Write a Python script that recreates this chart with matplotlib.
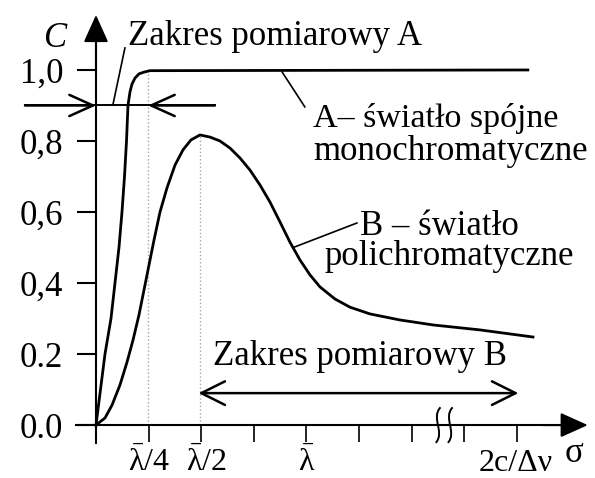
import numpy as np
import matplotlib.pyplot as plt
from matplotlib.path import Path
from matplotlib.patches import PathPatch

plt.rcParams['font.family'] = ['Liberation Serif', 'DejaVu Serif']
plt.rcParams['mathtext.fontset'] = 'custom'
plt.rcParams['mathtext.rm'] = 'Liberation Serif'
plt.rcParams['mathtext.it'] = 'Liberation Serif:italic'

FS = 25          # main text size (pt)
LW_CURVE = 2.0
LW_AXIS = 1.5

# x in units of lambda/4 (tick spacing), C = contrast
# A: coherent monochromatic light
a_x = [0.0, 0.171, 0.285, 0.361, 0.437, 0.494, 0.542, 0.580, 0.608, 0.646, 0.684,
       0.741, 0.817, 0.913, 1.027, 8.21]
a_c = [0.0, 0.2, 0.3, 0.4, 0.5, 0.6, 0.7, 0.8, 0.9, 0.938, 0.96,
       0.977, 0.989, 0.994, 0.998, 1.0]

# B: polychromatic light
b_x = [0.0, 0.171, 0.304, 0.456, 0.589, 0.703, 0.817, 0.912, 1.008, 1.103, 1.217,
       1.35, 1.502, 1.654, 1.806, 1.977, 2.167, 2.357, 2.548, 2.738, 2.928, 3.118,
       3.308, 3.498, 3.688, 3.878, 4.068, 4.259, 4.544, 4.829, 5.209, 5.779, 6.407,
       7.3, 8.308]
b_c = [0.0, 0.02, 0.056, 0.113, 0.177, 0.239, 0.31, 0.38, 0.451, 0.521, 0.6,
       0.668, 0.732, 0.775, 0.803, 0.817, 0.811, 0.8, 0.78, 0.752, 0.718, 0.676,
       0.628, 0.572, 0.515, 0.465, 0.423, 0.389, 0.355, 0.332, 0.313, 0.296, 0.282,
       0.268, 0.248]

y_ticks = [0.0, 0.2, 0.4, 0.6, 0.8, 1.0]
y_labels = ['0.0', '0.2', '0,4', '0,6', '0,8', '1,0']
x_ticks = [0, 1, 2, 3, 4, 5, 6, 7, 8]
x_label_pos = [1.01, 2.09, 4.01, 7.98]
x_label_txt = [r'$\bar{\mathrm{\lambda}}$/4', r'$\bar{\mathrm{\lambda}}$/2',
               r'$\bar{\mathrm{\lambda}}$', '2c/\u0394\u03bd']

fig = plt.figure(figsize=(5.95, 4.78), dpi=100)
ax = fig.add_axes([0, 0, 1, 1])
ax.set_xlim(-1.825, 9.487)
ax.set_ylim(-0.149, 1.197)
ax.patch.set_visible(False)

# axes through the origin
for s in ['top', 'right']:
    ax.spines[s].set_visible(False)
ax.spines['left'].set_position(('data', 0))
ax.spines['bottom'].set_position(('data', 0))
ax.spines['left'].set_bounds(-0.05, 1.09)
ax.spines['bottom'].set_bounds(-0.38, 8.95)
ax.spines['left'].set_linewidth(LW_AXIS)
ax.spines['bottom'].set_linewidth(LW_AXIS)

ax.set_yticks(y_ticks, y_labels)
ax.set_xticks(x_ticks, [''] * len(x_ticks))
ax.tick_params(axis='y', direction='out', length=13.5, width=1.5, pad=10, labelsize=FS)
ax.tick_params(axis='x', direction='out', length=12, width=1.2)

# arrow heads on the axes
head = dict(arrowstyle='-|>,head_length=1.0,head_width=0.45', mutation_scale=17,
            color='k', lw=LW_AXIS, shrinkA=0, shrinkB=0)
ax.annotate('', xy=(0, 1.155), xytext=(0, 1.0), arrowprops=head, annotation_clip=False)
ax.annotate('', xy=(9.35, 0), xytext=(8.5, 0), arrowprops=head, annotation_clip=False)

# axis break: two small S-shaped squiggles
for xc in (6.50, 6.73):
    verts = [(xc + 0.05, 0.05), (xc - 0.14, 0.02), (xc + 0.14, -0.02), (xc - 0.04, -0.05)]
    squiggle = Path(verts, [Path.MOVETO, Path.CURVE4, Path.CURVE4, Path.CURVE4])
    ax.add_patch(PathPatch(squiggle, fill=False, lw=1.4, color='k'))

# guide lines
b_peak = int(np.argmax(b_c))
ax.plot([0.98, 0.98], [0, 1.0], ls=':', color='0.65', lw=1.0)
ax.plot([b_x[b_peak], b_x[b_peak]], [0, b_c[b_peak]], ls=':', color='0.65', lw=1.0)

# curves
ax.plot(a_x, a_c, color='k', lw=LW_CURVE, solid_joinstyle='round')
ax.plot(b_x, b_c, color='k', lw=LW_CURVE, solid_joinstyle='round')

# measurement range A
ax.plot([-1.35, 2.26], [0.9, 0.9], color='k', lw=1.4)
chev = dict(arrowstyle='->,head_length=1.0,head_width=0.45', mutation_scale=17,
            color='k', lw=1.8, shrinkA=0, shrinkB=0)
ax.annotate('', xy=(0, 0.9), xytext=(-1.35, 0.9), arrowprops=chev)
ax.annotate('', xy=(0.99, 0.9), xytext=(2.26, 0.9), arrowprops=chev)
ax.plot([0.55, 0.32], [1.062, 0.901], color='k', lw=1.2)
ax.text(0.61, 1.07, 'Zakres pomiarowy A', fontsize=FS, ha='left', va='baseline')

# measurement range B
ax.annotate('', xy=(1.95, 0.09), xytext=(8.03, 0.09),
            arrowprops=dict(arrowstyle='<->,head_length=1.0,head_width=0.5',
                            mutation_scale=17, color='k', lw=1.8, shrinkA=0, shrinkB=0))
ax.text(2.22, 0.169, 'Zakres pomiarowy B', fontsize=FS, ha='left', va='baseline')

# curve labels
ax.plot([3.54, 3.97], [0.994, 0.896], color='k', lw=1.2)
ax.text(4.125, 0.839, 'A\u2013 \u015bwiat\u0142o sp\u00f3jne', fontsize=24.5, ha='left', va='baseline')
ax.text(4.125, 0.746, 'monochromatyczne', fontsize=FS, ha='left', va='baseline')
ax.plot([3.75, 4.96], [0.50, 0.569], color='k', lw=1.2)
ax.text(5.02, 0.535, 'B \u2013 \u015bwiat\u0142o', fontsize=FS, ha='left', va='baseline')
ax.text(4.35, 0.45, 'polichromatyczne', fontsize=FS, ha='left', va='baseline')

# axis titles
ax.text(-1.0, 1.065, 'C', fontsize=FS, style='italic', ha='left', va='baseline')
ax.text(9.09, -0.104, '\u03c3', fontsize=FS, ha='center', va='baseline')

# x tick labels
for xp, t in zip(x_label_pos, x_label_txt):
    ax.text(xp, -0.128, t, fontsize=23, ha='center', va='baseline')

fig.savefig('out.png', dpi=100)
